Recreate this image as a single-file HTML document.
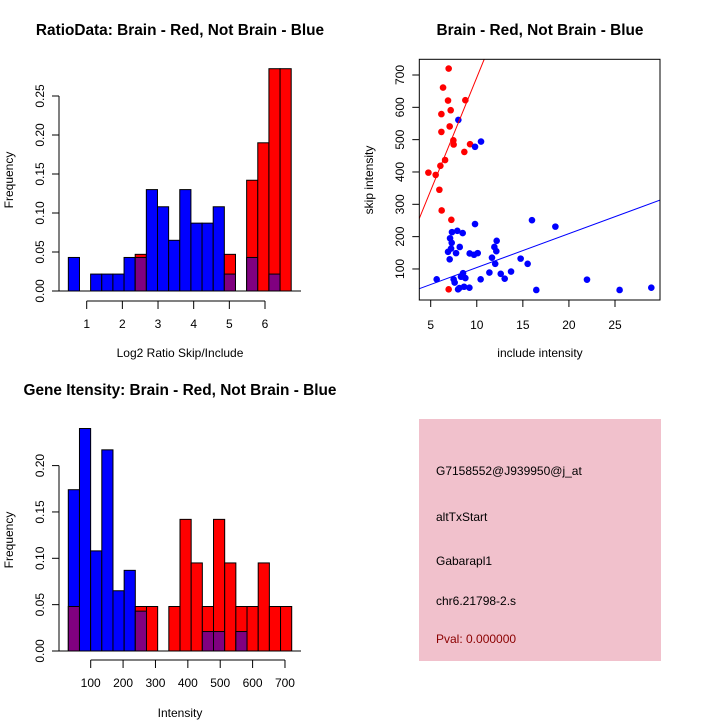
<!DOCTYPE html>
<html><head><meta charset="utf-8"><style>
body{margin:0;background:#fff}
svg{display:block;font-family:"Liberation Sans",sans-serif}
</style></head><body>
<svg id="s" width="720" height="720" viewBox="0 0 720 720">
<rect width="720" height="720" fill="#fff"/>
<g id="p1"></g>
<g id="p2"></g>
<g id="p3"></g>
<g>
<rect x="419" y="419" width="242" height="242" fill="#f1c1cc"/>
<text x="436" y="475" font-size="12">G7158552@J939950@j_at</text>
<text x="436" y="521" font-size="12">altTxStart</text>
<text x="436" y="565" font-size="12">Gabarapl1</text>
<text x="436" y="605" font-size="12">chr6.21798-2.s</text>
<text x="436" y="643" font-size="12" fill="#8b0000">Pval: 0.000000</text>
</g>
</svg>
<script>
// Ratio histogram data
const ratioBinStart = 0.485, ratioBinWidth = 0.3125;
const ratioBlue = [0.043,0,0.0217,0.0217,0.0217,0.043,0.043,0.13,0.108,0.065,0.13,0.087,0.087,0.108,0.0217,0,0.043,0,0.0217,0];
const ratioRed  = [0,0,0,0,0,0,0.047,0,0,0,0,0,0,0,0.047,0,0.142,0.19,0.285,0.285];
const ratioXTicks = [1,2,3,4,5,6];
const ratioYTicks = [0,0.05,0.10,0.15,0.20,0.25];
// Intensity histogram data
const intBinStart = 30.8, intBinWidth = 34.5;
const intBlue = [0.174,0.24,0.108,0.217,0.065,0.087,0.043,0,0,0,0,0,0.021,0.021,0,0.021,0,0,0,0];
const intRed  = [0.048,0,0,0,0,0,0.048,0.048,0,0.048,0.142,0.095,0.048,0.142,0.095,0.048,0.048,0.095,0.048,0.048];
const intXTicks = [100,200,300,400,500,600,700];
const intYTicks = [0,0.05,0.10,0.15,0.20];
// Scatter data
const redX = [6.95,6.34,6.88,8.76,6.16,7.17,6.16,7.06,7.46,7.49,9.27,8.65,6.56,6.05,4.75,5.54,5.94,6.19,7.24,6.95];
const redY = [720,661,621,622,579,591,524,541,498,485,486,462,437,419,398,391,345,281,252,37];
const blueX = [8.0,9.81,10.46,9.81,15.99,18.53,7.31,7.89,8.47,7.1,7.28,7.21,6.88,8.15,7.75,7.06,9.23,9.7,10.1,12.16,11.91,12.12,11.65,12.0,14.76,15.52,5.65,7.49,7.6,8.29,8.51,8.76,10.42,11.37,12.6,13.03,13.72,7.97,8.11,8.62,9.2,16.46,21.96,25.5,28.94];
const blueY = [561,478,494,239,251,231,214,218,211,195,181,163,153,168,149,130,148,144,149,187,168,155,135,116,132,116,68,68,58,76,87,72,68,89,85,70,92,37,41,45,42,35,67,35,42];
const redFit = [-6.8, 69.9];
const blueFit = [-0.5, 10.49];
const scXTicks = [5,10,15,20,25];
const scYTicks = [100,200,300,400,500,600,700];

const NS="http://www.w3.org/2000/svg";
function mk(p,tag,a,txt){const e=document.createElementNS(NS,tag);for(const k in a)e.setAttribute(k,a[k]);if(txt!==undefined)e.textContent=txt;p.appendChild(e);return e;}

function hist(g,o){
  const sx=v=>o.x0+(v-o.xv0)*o.kx, sy=v=>o.base-v*o.ky;
  const n=o.blue.length;
  for(let i=0;i<n;i++){
    const a=o.bs+i*o.bw,b=a+o.bw,x=sx(a),w=sx(b)-x;
    const bl=o.blue[i],rd=o.red[i];
    const mx=Math.max(bl,rd),mn=Math.min(bl,rd);
    if(mx>0){
      const r=mk(g,'rect',{x:x,y:sy(mx),width:w,height:sy(0)-sy(mx),fill:rd>=bl?'#ff0000':'#0000ff',stroke:'#000','stroke-width':1});
      
      
    }
    if(mn>0){
      const r=mk(g,'rect',{x:x,y:sy(mn),width:w,height:sy(0)-sy(mn),fill:'#800080',stroke:'#000','stroke-width':1});
      
      
    }
  }
  const bl=mk(g,'line',{x1:52,y1:o.base,x2:301,y2:o.base,stroke:'#000'});
  
  
  const yt=o.yt;
  const ya=mk(g,'line',{x1:59,y1:sy(yt[0]),x2:59,y2:sy(yt[yt.length-1]),stroke:'#000'});
  
  
  yt.forEach(v=>{
    mk(g,'line',{x1:52,y1:sy(v),x2:59,y2:sy(v),stroke:'#000'});
    const t=mk(g,'text',{x:0,y:0,'font-size':12,'text-anchor':'middle',transform:`translate(44,${sy(v)}) rotate(-90)`},v.toFixed(2));
    
    
  });
  const xt=o.xt;
  const xa=mk(g,'line',{x1:sx(xt[0]),y1:o.axy,x2:sx(xt[xt.length-1]),y2:o.axy,stroke:'#000'});
  
  
  xt.forEach(v=>{
    mk(g,'line',{x1:sx(v),y1:o.axy,x2:sx(v),y2:o.axy+8,stroke:'#000'});
    const t=mk(g,'text',{x:sx(v),y:o.axy+27,'font-size':12,'text-anchor':'middle'},String(v));
    
    
  });
  let t=mk(g,'text',{x:180,y:o.titleY,'font-size':15.4,'font-weight':'bold','text-anchor':'middle'},o.title);
  
  
  t=mk(g,'text',{x:180,y:o.xlabY,'font-size':12,'text-anchor':'middle'},o.xlab);
  
  
  t=mk(g,'text',{x:0,y:0,'font-size':12,'text-anchor':'middle',transform:`translate(13,${o.ylabY}) rotate(-90)`},'Frequency');
  
  
}

hist(document.getElementById('p1'),{blue:ratioBlue,red:ratioRed,bs:ratioBinStart,bw:ratioBinWidth,
  x0:86.7,xv0:1,kx:35.66,base:291,ky:780,yt:ratioYTicks,xt:ratioXTicks,axy:301,
  title:'RatioData: Brain - Red, Not Brain - Blue',titleY:35,xlab:'Log2 Ratio Skip/Include',xlabY:357,ylabY:180});
hist(document.getElementById('p3'),{blue:intBlue,red:intRed,bs:intBinStart,bw:intBinWidth,
  x0:90.7,xv0:100,kx:0.3238,base:651,ky:927,yt:intYTicks,xt:intXTicks,axy:660,
  title:'Gene Itensity: Brain - Red, Not Brain - Blue',titleY:395,xlab:'Intensity',xlabY:717,ylabY:540});

(function(){
  const g=document.getElementById('p2');
  const L=419.3,R=660,T=59.3,B=300;
  const sx=v=>430.7+(v-5)*9.215, sy=v=>301.3-v*0.3233;
  const xmin=(L-430.7)/9.215+5, xmax=(R-430.7)/9.215+5;
  const cp=mk(g,'clipPath',{id:'cp'});mk(cp,'rect',{x:L,y:T,width:R-L,height:B-T});
  redX.forEach((x,i)=>{const c=mk(g,'circle',{cx:sx(x),cy:sy(redY[i]),r:3.3,fill:'#ff0000'});
    
    });
  blueX.forEach((x,i)=>{const c=mk(g,'circle',{cx:sx(x),cy:sy(blueY[i]),r:3.3,fill:'#0000ff'});
    
    });
  const lg=mk(g,'g',{'clip-path':'url(#cp)'});
  let l=mk(lg,'line',{x1:sx(xmin),y1:sy(redFit[0]+redFit[1]*xmin),x2:sx(xmax),y2:sy(redFit[0]+redFit[1]*xmax),stroke:'#ff0000'});
  
  
  l=mk(lg,'line',{x1:sx(xmin),y1:sy(blueFit[0]+blueFit[1]*xmin),x2:sx(xmax),y2:sy(blueFit[0]+blueFit[1]*xmax),stroke:'#0000ff'});
  
  
  const bx=mk(g,'rect',{x:L,y:T,width:R-L,height:B-T,fill:'none',stroke:'#000'});
  
  
  scXTicks.forEach(v=>{mk(g,'line',{x1:sx(v),y1:B,x2:sx(v),y2:B+7,stroke:'#000'});
    const t=mk(g,'text',{x:sx(v),y:B+29,'font-size':12,'text-anchor':'middle'},String(v));
    
    });
  scYTicks.forEach(v=>{mk(g,'line',{x1:L-7,y1:sy(v),x2:L,y2:sy(v),stroke:'#000'});
    const t=mk(g,'text',{x:0,y:0,'font-size':12,'text-anchor':'middle',transform:`translate(404,${sy(v)}) rotate(-90)`},String(v));
    
    });
  let t=mk(g,'text',{x:540,y:35,'font-size':15.4,'font-weight':'bold','text-anchor':'middle'},'Brain - Red, Not Brain - Blue');
  
  
  t=mk(g,'text',{x:540,y:357,'font-size':12,'text-anchor':'middle'},'include intensity');
  
  
  t=mk(g,'text',{x:0,y:0,'font-size':12,'text-anchor':'middle',transform:'translate(373,180) rotate(-90)'},'skip intensity');
  
  
})();
</script>
</body></html>
